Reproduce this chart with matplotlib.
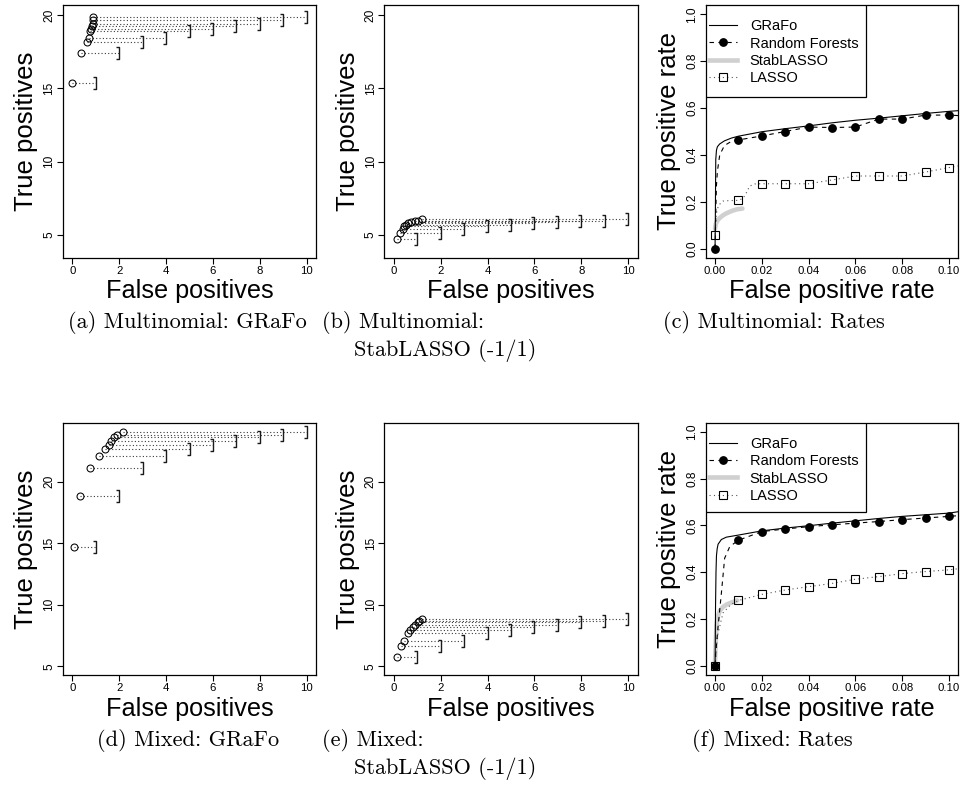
import numpy as np
import matplotlib
matplotlib.use("Agg")
import matplotlib.pyplot as plt
from matplotlib.lines import Line2D
from matplotlib.patches import Rectangle

W, H = 967, 799

# error-control bounds (E[V] <= k) for the bracket panels
bounds = np.arange(1, 11)

# (a) Multinomial: GRaFo
a_fp = [0.00, 0.36, 0.62, 0.71, 0.77, 0.80, 0.83, 0.86, 0.88, 0.90]
a_tp = [15.38, 17.38, 18.15, 18.40, 18.91, 19.07, 19.25, 19.40, 19.66, 19.86]
# (b) Multinomial: StabLASSO (-1/1)
b_fp = [0.14, 0.28, 0.38, 0.45, 0.53, 0.62, 0.74, 0.90, 1.05, 1.19]
b_tp = [4.73, 5.14, 5.42, 5.58, 5.67, 5.80, 5.86, 5.93, 5.98, 6.11]
# (d) Mixed: GRaFo
d_fp = [0.06, 0.31, 0.75, 1.12, 1.38, 1.55, 1.66, 1.78, 1.90, 2.16]
d_tp = [14.73, 18.84, 21.08, 22.10, 22.62, 22.97, 23.30, 23.60, 23.78, 24.00]
# (e) Mixed: StabLASSO (-1/1)
e_fp = [0.14, 0.31, 0.45, 0.62, 0.71, 0.81, 0.91, 1.02, 1.10, 1.20]
e_tp = [5.81, 6.65, 7.05, 7.70, 8.00, 8.24, 8.40, 8.57, 8.73, 8.86]

grid_fpr = [0.00, 0.01, 0.02, 0.03, 0.04, 0.05, 0.06, 0.07, 0.08, 0.09, 0.10]

# (c) Multinomial: Rates
c_grafo_x = [0, 0.0001, 0.0002, 0.0003, 0.0006, 0.001, 0.002, 0.004, 0.007, 0.01,
             0.02, 0.03, 0.04, 0.05, 0.06, 0.07, 0.08, 0.09, 0.10, 0.104]
c_grafo_y = [0, 0.10, 0.25, 0.38, 0.42, 0.435, 0.447, 0.46, 0.472, 0.48,
             0.499, 0.512, 0.524, 0.537, 0.548, 0.557, 0.567, 0.577, 0.586, 0.589]
c_rf_x = [0, 0.0003, 0.0006, 0.001, 0.002, 0.004, 0.007, 0.01, 0.02, 0.03, 0.04,
          0.05, 0.06, 0.07, 0.08, 0.09, 0.10, 0.104]
c_rf_y = [0, 0.15, 0.27, 0.33, 0.40, 0.44, 0.458, 0.464, 0.481, 0.50, 0.519,
          0.517, 0.519, 0.553, 0.553, 0.57, 0.57, 0.568]
c_rf_pts = [0, 0.464, 0.481, 0.50, 0.519, 0.517, 0.519, 0.553, 0.553, 0.57, 0.57]
c_stab_x = [0, 0.0003, 0.001, 0.002, 0.0035, 0.0049, 0.0065, 0.0077, 0.0095, 0.0117]
c_stab_y = [0.085, 0.105, 0.12, 0.131, 0.143, 0.151, 0.158, 0.163, 0.168, 0.171]
c_lasso_x = [0, 0.0006, 0.0015, 0.0034, 0.006, 0.01, 0.012, 0.0134, 0.0148, 0.017,
             0.02, 0.03, 0.04, 0.05, 0.06, 0.07, 0.08, 0.09, 0.10, 0.104]
c_lasso_y = [0.06, 0.153, 0.185, 0.203, 0.205, 0.206, 0.215, 0.239, 0.267, 0.276,
             0.277, 0.277, 0.277, 0.293, 0.31, 0.31, 0.31, 0.327, 0.346, 0.353]
c_lasso_pts = [0.06, 0.206, 0.277, 0.277, 0.277, 0.293, 0.31, 0.31, 0.31, 0.327, 0.346]

# (f) Mixed: Rates
f_grafo_x = [0, 0.0001, 0.0002, 0.0004, 0.0006, 0.0009, 0.0013, 0.0027, 0.0048, 0.01,
             0.02, 0.03, 0.04, 0.05, 0.06, 0.07, 0.08, 0.09, 0.10, 0.104]
f_grafo_y = [0, 0.10, 0.25, 0.40, 0.47, 0.50, 0.52, 0.54, 0.55, 0.559,
             0.577, 0.589, 0.599, 0.61, 0.62, 0.63, 0.639, 0.646, 0.653, 0.659]
f_rf_x = [0, 0.0003, 0.0013, 0.0027, 0.0041, 0.0063, 0.01, 0.02, 0.03, 0.04, 0.05,
          0.06, 0.07, 0.08, 0.09, 0.10, 0.104]
f_rf_y = [0, 0.054, 0.168, 0.31, 0.46, 0.51, 0.537, 0.574, 0.585, 0.595, 0.603,
          0.61, 0.617, 0.625, 0.632, 0.639, 0.642]
f_rf_pts = [0, 0.537, 0.574, 0.585, 0.595, 0.603, 0.61, 0.617, 0.625, 0.632, 0.639]
f_stab_x = [0, 0.0003, 0.0006, 0.0012, 0.002, 0.0035, 0.005, 0.0075, 0.0095]
f_stab_y = [0.02, 0.10, 0.17, 0.21, 0.235, 0.252, 0.262, 0.272, 0.279]
f_lasso_x = [0, 0.001, 0.0034, 0.0068, 0.01, 0.02, 0.03, 0.04, 0.05, 0.06, 0.07,
             0.08, 0.09, 0.10, 0.104]
f_lasso_y = [0, 0.126, 0.226, 0.262, 0.279, 0.305, 0.324, 0.338, 0.352, 0.37, 0.381,
             0.394, 0.403, 0.41, 0.415]
f_lasso_pts = [0, 0.279, 0.305, 0.324, 0.338, 0.352, 0.37, 0.381, 0.394, 0.403, 0.41]

method_names = ["GRaFo", "Random Forests", "StabLASSO", "LASSO"]

SANS = "Liberation Sans"
CAPTION = "cmr10"

plt.rcParams["font.family"] = SANS
plt.rcParams["axes.linewidth"] = 0.9

# right-bracket glyph: vertical stroke at the bound, short serifs to the left
BRACKET = [(-0.22, 0.5), (0, 0.5), (0, -0.5), (-0.22, -0.5)]

fig = plt.figure(figsize=(W / 100, H / 100), dpi=100)


def add_axes(l, t, r, b):
    return fig.add_axes([l / W, 1 - b / H, (r - l) / W, (b - t) / H])


def style_axes(ax, xticks, xlabels, yticks, ylabels, xlab, ylab, label_y):
    ax.tick_params(direction="out", length=4, width=0.8, color="black")
    ax.tick_params(axis="x", pad=2)
    ax.tick_params(axis="y", pad=1.5)
    ax.set_xticks(xticks, xlabels, fontsize=8.2)
    ax.set_yticks(yticks, ylabels, rotation=90, va="center", fontsize=8.6)
    ax.set_xlabel(xlab, fontsize=18.2)
    ax.set_ylabel(ylab, fontsize=18.5)
    ax.xaxis.set_label_coords(0.5, label_y)
    ax.yaxis.set_label_coords(-0.097, 0.5)


def bracket_panel(ax, fp, tp, ylim, yticks, label_y):
    for x0, y0, b in zip(fp, tp, bounds):
        ax.plot([x0, b], [y0, y0], ls=(0, (1, 2)), color="#3a3a3a", lw=0.8)
    ax.plot(bounds, tp, ls="none", marker=BRACKET, ms=9.2, mfc="none",
            mec="#1a1a1a", mew=1.0)
    ax.plot(fp, tp, ls="none", marker="o", ms=5.0, mfc="none", mec="black", mew=0.75)
    ax.set_xlim(-0.4, 10.4)
    ax.set_ylim(ylim)
    xt = [0, 2, 4, 6, 8, 10]
    style_axes(ax, xt, [str(v) for v in xt], yticks, [str(v) for v in yticks],
               "False positives", "True positives", label_y)


def rate_panel(ax, grafo, rf, rf_pts, stab, lasso, lasso_pts, label_y, leg_h):
    ax.plot(stab[0], stab[1], color="#d0d0d0", lw=3.3, solid_capstyle="round", zorder=1)
    ax.plot(lasso[0], lasso[1], color="#555555", lw=0.8, ls=(0, (1, 3)), zorder=2)
    ax.plot(grid_fpr, lasso_pts, ls="none", marker="s", ms=5.4, mfc="none",
            mec="black", mew=0.8, zorder=3)
    ax.plot(rf[0], rf[1], color="black", lw=0.8, ls=(0, (4, 4)), zorder=3)
    ax.plot(grid_fpr, rf_pts, ls="none", marker="o", ms=5.3, color="black", zorder=4)
    ax.plot(grafo[0], grafo[1], color="black", lw=0.8, zorder=4)
    ax.set_xlim(-0.004, 0.104)
    ax.set_ylim(-0.04, 1.04)
    xt = [0.00, 0.02, 0.04, 0.06, 0.08, 0.10]
    yt = [0.0, 0.2, 0.4, 0.6, 0.8, 1.0]
    style_axes(ax, xt, ["%.2f" % v for v in xt], yt, ["%.1f" % v for v in yt],
               "False positive rate", "True positive rate", label_y)

    ax.add_patch(Rectangle((0, 1 - leg_h), 0.633, leg_h, transform=ax.transAxes,
                           facecolor="white", edgecolor="black", lw=0.9, zorder=5))
    handles = [
        Line2D([], [], color="black", lw=0.8),
        Line2D([], [], color="black", lw=0.8, ls=(0, (4, 4)), marker="o", ms=5.3),
        Line2D([], [], color="#d0d0d0", lw=3.3),
        Line2D([], [], color="#555555", lw=0.8, ls=(0, (1, 3)), marker="s", ms=5.4,
               mfc="none", mec="black", mew=0.8),
    ]
    leg = ax.legend(handles, method_names, loc="upper left",
                    bbox_to_anchor=(0.0146, 0.944), frameon=False, borderpad=0,
                    borderaxespad=0, handlelength=1.87, handletextpad=0.9,
                    labelspacing=0.23, fontsize=10.5, numpoints=1)
    leg.set_zorder(6)


top = (5, 258)
bot = (422.7, 675)
cols = [(63, 316), (384.3, 637.7), (705.7, 958.3)]

ax_a = add_axes(cols[0][0], top[0], cols[0][1], top[1])
bracket_panel(ax_a, a_fp, a_tp, (3.43, 20.68), [5, 10, 15, 20], -0.083)
ax_b = add_axes(cols[1][0], top[0], cols[1][1], top[1])
bracket_panel(ax_b, b_fp, b_tp, (3.43, 20.68), [5, 10, 15, 20], -0.083)
ax_c = add_axes(cols[2][0], top[0], cols[2][1], top[1])
rate_panel(ax_c, (c_grafo_x, c_grafo_y), (c_rf_x, c_rf_y), c_rf_pts,
           (c_stab_x, c_stab_y), (c_lasso_x, c_lasso_y), c_lasso_pts, -0.083, 0.362)

ax_d = add_axes(cols[0][0], bot[0], cols[0][1], bot[1])
bracket_panel(ax_d, d_fp, d_tp, (4.31, 24.78), [5, 10, 15, 20], -0.087)
ax_e = add_axes(cols[1][0], bot[0], cols[1][1], bot[1])
bracket_panel(ax_e, e_fp, e_tp, (4.31, 24.78), [5, 10, 15, 20], -0.087)
ax_f = add_axes(cols[2][0], bot[0], cols[2][1], bot[1])
rate_panel(ax_f, (f_grafo_x, f_grafo_y), (f_rf_x, f_rf_y), f_rf_pts,
           (f_stab_x, f_stab_y), (f_lasso_x, f_lasso_y), f_lasso_pts, -0.087, 0.355)

# sub-figure captions
captions = [
    (68, 322, "(a) Multinomial: GRaFo"),
    (322, 322, "(b) Multinomial:"),
    (354, 350, "StabLASSO (-1/1)"),
    (663, 322, "(c) Multinomial: Rates"),
    (97, 740, "(d) Mixed: GRaFo"),
    (322, 740, "(e) Mixed:"),
    (354, 768, "StabLASSO (-1/1)"),
    (692, 740, "(f) Mixed: Rates"),
]
for x, y, s in captions:
    fig.text(x / W, 1 - y / H, s, ha="left", va="center", fontfamily=CAPTION,
             fontsize=16)

fig.savefig("out.png", dpi=100)
